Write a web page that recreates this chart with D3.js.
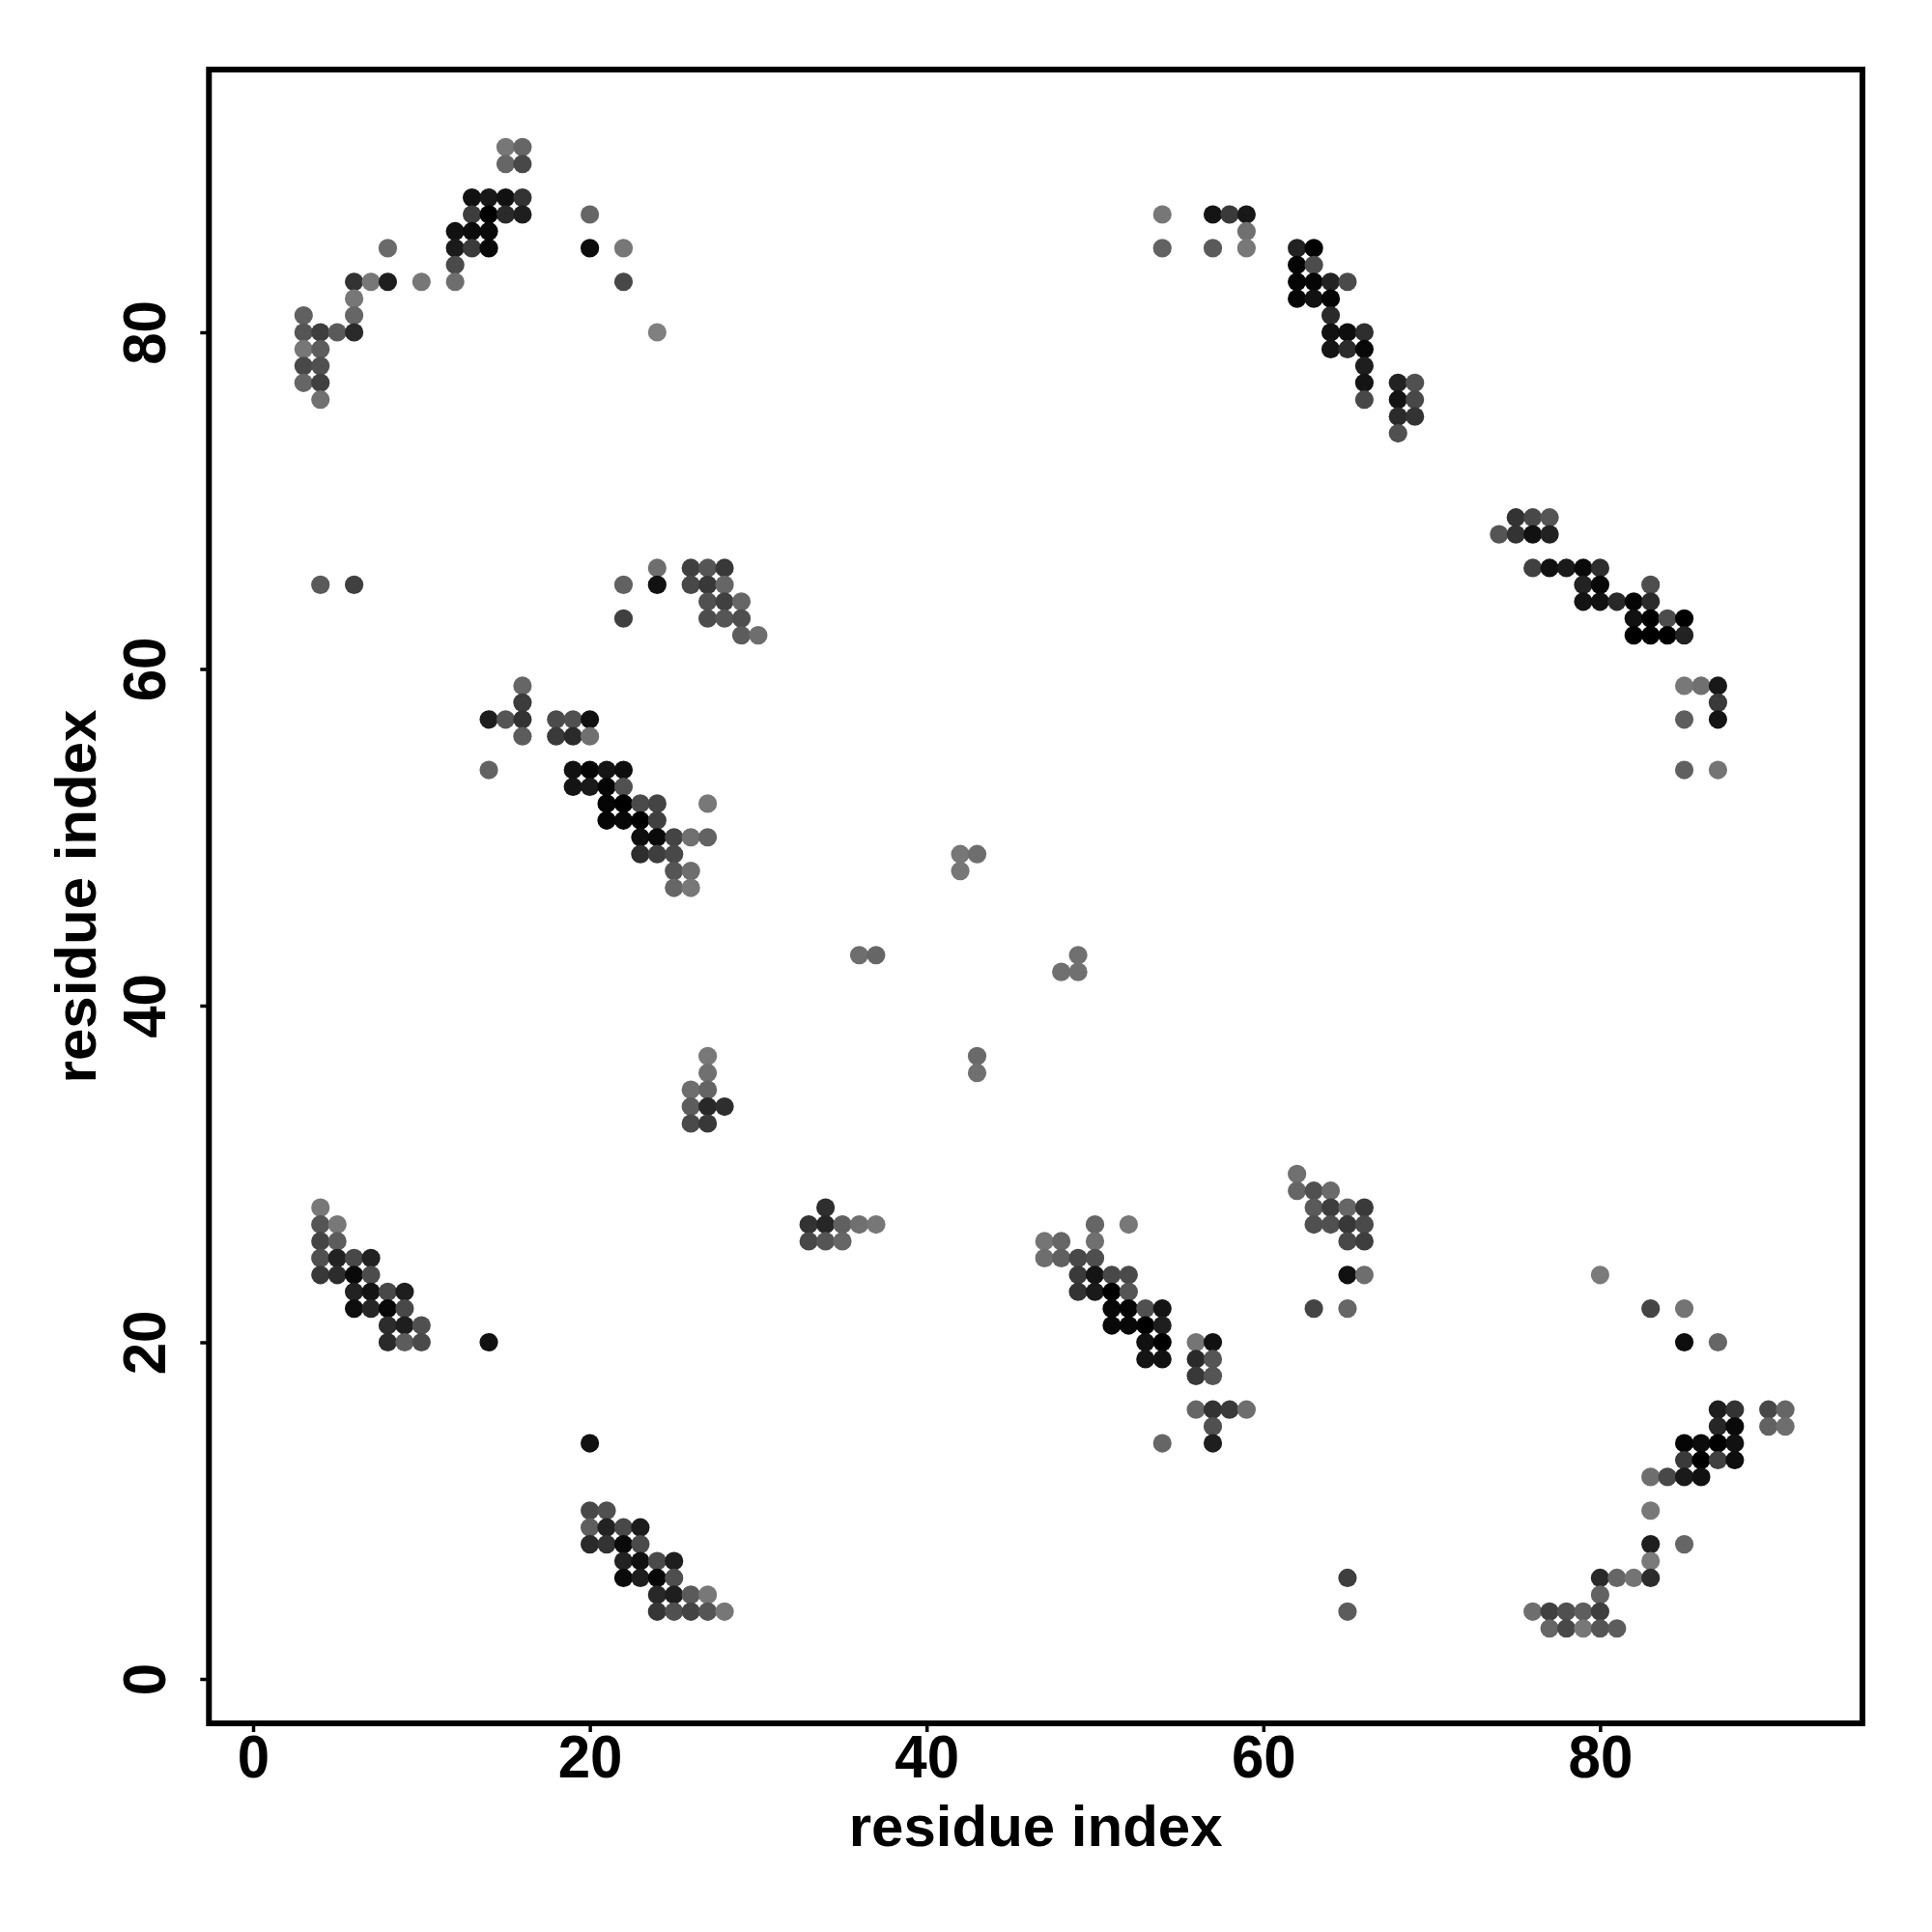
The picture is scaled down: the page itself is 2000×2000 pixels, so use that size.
<!DOCTYPE html>
<html>
<head>
<meta charset="utf-8">
<script src="https://cdn.jsdelivr.net/npm/d3@7"></script>
<style>html,body{margin:0;padding:0;background:#fff}svg{display:block}</style>
</head>
<body>
<div id="chart"></div>
<script>
const xTicks = [0, 20, 40, 60, 80];
const yTicks = [0, 20, 40, 60, 80];
const xTitle = "residue index";
const yTitle = "residue index";

// Each row: residue j, the residues i in contact with it, and the grey level read for each.
const rowJ = [91,90,88,87,86,85,84,83,82,81,80,79,78,77,76,75,74,69,68,66,65,64,63,62,59,58,57,56,54,53,52,51,50,49,48,47,43,42,37,36,35,34,33,30,29,28,27,26,25,24,23,22,21,20,19,18,16,15,14,13,12,10,9,8,7,6,5,4,3];
const rowI = [
[15,16],[15,16],[13,14,15,16],[13,14,15,16,20,54,57,58,59],[12,13,14,59],
[8,12,13,14,20,22,54,57,59,62,63],[12,62,63],[6,7,8,10,12,22,62,63,64,65],[6,62,63,64],[3,6,64],
[3,4,5,6,24,64,65,66],[3,4,64,65,66],[3,4,66],[3,4,66,68,69],[4,66,68,69],[68,69],[68],
[75,76,77],[74,75,76,77],[24,26,27,28,76,77,78,79,80],[4,6,22,24,26,27,28,79,80,83],
[27,28,29,79,80,81,82,83],[22,27,28,29,82,83,84,85],[29,30,82,83,84,85],[16,85,86,87],[16,87],
[14,15,16,18,19,20,85,87],[16,18,19,20],[14,19,20,21,22,85,87],[19,20,21,22],[21,22,23,24,27],
[21,22,23,24],[23,24,25,26,27],[23,24,25,42,43],[25,26,42],[25,26],[36,37,49],[48,49],[27,43],[27,43],
[26,27],[26,27,28],[26,27],[62],[62,63,64],[4,34,63,64,65,66],[4,5,33,34,35,36,37,50,52,63,64,65,66],
[4,5,33,34,35,47,48,50,65,66],[4,5,6,7,47,48,49,50],[4,5,6,7,49,50,51,52,65,66,80],[6,7,8,9,49,50,51,52],
[6,7,8,9,51,52,53,54,63,65,83,85],[8,9,10,51,52,53,54],[8,9,10,14,53,54,56,57,85,87],[53,54,56,57],[56,57],
[56,57,58,59,87,88,90,91],[57,87,88,90,91],[20,54,57,85,86,87,88],[85,86,87,88],[83,84,85,86],[20,21,83],
[20,21,22,23],[20,21,22,23,83,85],[22,23,24,25,83],[22,23,24,25,65,80,81,82,83],[24,25,26,27,80],
[24,25,26,27,28,65,76,77,78,79,80],[77,78,79,80,81]
];
const rowGrey = [
[0x77,0x66],[0x66,0x48],[0x11,0x18,0x11,0x33],[0x3d,0x00,0x2a,0x1e,0x66,0x77,0x14,0x3a,0x18],[0x11,0x0c,0x0a,0x70],
[0x6a,0x1a,0x3a,0x08,0x0c,0x77,0x62,0x5a,0x78,0x22,0x00],[0x4a,0x05,0x4c],[0x33,0x77,0x1e,0x77,0x6e,0x48,0x05,0x05,0x22,0x4a],[0x77,0x05,0x11,0x05],[0x60,0x66,0x2a],
[0x55,0x3e,0x5a,0x2a,0x80,0x11,0x0e,0x2e],[0x77,0x5c,0x14,0x2c,0x08],[0x48,0x50,0x1e],[0x66,0x40,0x14,0x22,0x50],[0x70,0x48,0x14,0x48],[0x2a,0x33],[0x50],
[0x33,0x48,0x55],[0x55,0x33,0x11,0x22],[0x6e,0x40,0x55,0x38,0x40,0x11,0x1a,0x0a,0x2e],[0x5a,0x40,0x62,0x11,0x48,0x38,0x66,0x22,0x08,0x4e],
[0x50,0x40,0x66,0x14,0x11,0x28,0x05,0x2a],[0x40,0x4c,0x55,0x4e,0x11,0x00,0x4c,0x00],[0x5c,0x6e,0x00,0x00,0x00,0x22],[0x66,0x78,0x70,0x18],[0x3c,0x3a],
[0x1e,0x55,0x33,0x4c,0x50,0x11,0x5e,0x14],[0x5c,0x3a,0x2a,0x70],[0x62,0x11,0x05,0x14,0x0e,0x60,0x74],[0x14,0x1a,0x05,0x50],[0x05,0x00,0x4a,0x44,0x78],
[0x05,0x08,0x00,0x40],[0x0e,0x0a,0x44,0x70,0x62],[0x2e,0x3e,0x48,0x77,0x6e],[0x55,0x6e,0x77],[0x66,0x78],[0x6e,0x66,0x70],[0x70,0x70],[0x78,0x6a],[0x70,0x70],
[0x6e,0x64],[0x5c,0x28,0x2e],[0x4a,0x38],[0x70],[0x66,0x50,0x6a],[0x78,0x2e,0x5a,0x3e,0x66,0x3a],[0x55,0x78,0x33,0x26,0x60,0x70,0x77,0x66,0x78,0x50,0x50,0x38,0x4a],
[0x44,0x5c,0x48,0x55,0x66,0x75,0x66,0x70,0x48,0x3e],[0x50,0x22,0x48,0x22,0x6e,0x60,0x48,0x4e],[0x38,0x2c,0x0a,0x4c,0x3a,0x14,0x48,0x4a,0x11,0x6e,0x7a],[0x22,0x14,0x48,0x1e,0x33,0x1a,0x00,0x55],
[0x0e,0x26,0x08,0x48,0x08,0x05,0x50,0x14,0x44,0x66,0x44,0x74],[0x2c,0x1e,0x50,0x08,0x08,0x00,0x1e],[0x2a,0x5c,0x4a,0x11,0x11,0x00,0x75,0x11,0x0e,0x66],[0x14,0x11,0x2a,0x55],[0x38,0x55],
[0x66,0x33,0x3a,0x6e,0x1e,0x33,0x48,0x66],[0x50,0x26,0x0a,0x62,0x6e],[0x11,0x66,0x1e,0x05,0x0c,0x00,0x11],[0x3a,0x00,0x40,0x0e],[0x6e,0x48,0x1a,0x11],[0x48,0x50,0x78],
[0x5e,0x22,0x48,0x1c],[0x2a,0x33,0x0a,0x4a,0x1e,0x66],[0x22,0x11,0x4a,0x1e,0x7a],[0x0a,0x1e,0x08,0x4e,0x3e,0x2a,0x66,0x74,0x2c],[0x28,0x1e,0x5a,0x78,0x62],
[0x36,0x50,0x44,0x55,0x77,0x5c,0x6e,0x40,0x50,0x5e,0x3e],[0x66,0x48,0x77,0x55,0x5c]
];

const contacts = rowJ.flatMap((j, r) => rowI[r].map((i, k) => ({i, j, grey: rowGrey[r][k]})));

const W = 2000, H = 2000;
const frame = {left: 216.3, right: 1928, top: 72, bottom: 1784};
const font = "'Liberation Sans', Arial, Helvetica, sans-serif";

const x = d3.scaleLinear().domain([0, 80]).range([262, 1656.4]);
const y = d3.scaleLinear().domain([0, 80]).range([1738, 344]);
const shade = d3.scaleLinear().domain([0, 255]).range(["#000000", "#ffffff"]);

const svg = d3.select("#chart").append("svg").attr("width", W).attr("height", H).attr("viewBox", `0 0 ${W} ${H}`);
svg.append("rect").attr("width", W).attr("height", H).attr("fill", "#fff");

svg.append("g").selectAll("circle").data(contacts).join("circle")
  .attr("cx", d => x(d.i)).attr("cy", d => y(d.j)).attr("r", 9.6)
  .attr("fill", d => shade(d.grey));

const xAxis = svg.append("g").attr("transform", `translate(0,${frame.bottom})`)
  .call(d3.axisBottom(x).tickValues(xTicks).tickSize(9).tickFormat(d3.format("d")));
const yAxis = svg.append("g").attr("transform", `translate(${frame.left},0)`)
  .call(d3.axisLeft(y).tickValues(yTicks).tickSize(9).tickFormat(d3.format("d")));
for (const a of [xAxis, yAxis]) {
  a.select(".domain").remove();
  a.selectAll("line").attr("stroke", "#000").attr("stroke-width", 3.5);
  a.selectAll("text").attr("fill", "#000").attr("font-family", font).attr("font-weight", "bold").attr("font-size", 60);
}
xAxis.selectAll("text").attr("dy", 0).attr("y", 0).attr("text-anchor", "middle")
  .attr("transform", "translate(0,55.5) scale(1,1.06)");
yAxis.selectAll("text").attr("dy", 0).attr("x", 0).attr("y", 0)
  .attr("text-anchor", "middle").attr("transform", "translate(-45.6,0) rotate(-90) scale(1,1.06)");

svg.append("rect").attr("x", frame.left).attr("y", frame.top)
  .attr("width", frame.right - frame.left).attr("height", frame.bottom - frame.top)
  .attr("fill", "none").attr("stroke", "#000").attr("stroke-width", 6);

svg.append("text").attr("x", (frame.left + frame.right) / 2).attr("y", 1911)
  .attr("text-anchor", "middle").attr("font-family", font).attr("font-weight", "bold").attr("font-size", 60).text(xTitle);
svg.append("text").attr("transform", `translate(98.5,${(frame.top + frame.bottom) / 2}) rotate(-90)`)
  .attr("text-anchor", "middle").attr("font-family", font).attr("font-weight", "bold").attr("font-size", 60).text(yTitle);
</script>
</body>
</html>
